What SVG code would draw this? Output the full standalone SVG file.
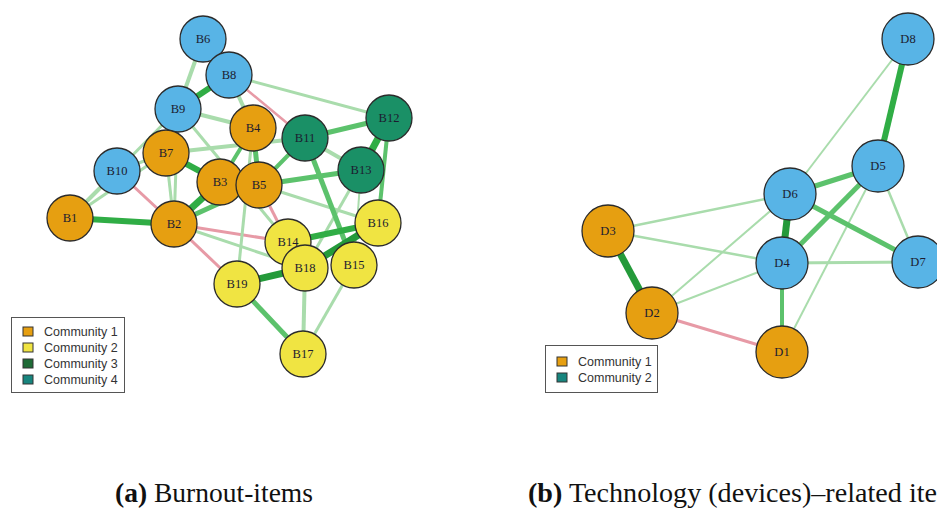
<svg xmlns="http://www.w3.org/2000/svg" width="937" height="508" viewBox="0 0 937 508">
<style>
.e{fill:none;stroke-linecap:butt}
.s{stroke:#30ad45}
.sd{stroke:#249a3a}
.m{stroke:#5cc26c}
.l{stroke:#a9dcac}
.p{stroke:#e79aa6}
.n circle{stroke:#2b2b2b;stroke-width:1.3}
.b circle{r:23px}
.d circle{r:26px}
.n text{font-family:"Liberation Serif","DejaVu Serif",serif;font-size:12.5px;fill:#1c1c30;text-anchor:middle;dominant-baseline:central}
.c1{fill:#E69F11}
.c2{fill:#F0E442}
.cb{fill:#58B4E6}
.ct{fill:#1A9066}
.lg text{font-family:"Liberation Sans",Arial,sans-serif;font-size:12.5px;fill:#333}
.lg rect.box{fill:#fff;stroke:#555;stroke-width:1}
.lg rect.k{stroke:#333;stroke-width:1}
.cap{font-family:"Liberation Serif","Times New Roman",serif;font-size:27px;fill:#111}
</style>
<rect width="937" height="508" fill="#fff"/>
<g id="edges-a">
<line class="e l" stroke-width="3" x1="178" y1="109" x2="117" y2="171"/>
<line class="e l" stroke-width="3" x1="178" y1="109" x2="174" y2="224"/>
<line class="e l" stroke-width="3" x1="178" y1="109" x2="288" y2="242"/>
<line class="e l" stroke-width="4" x1="178" y1="109" x2="253" y2="128"/>
<line class="e l" stroke-width="4" x1="166" y1="153" x2="305" y2="138"/>
<line class="e l" stroke-width="3" x1="166" y1="153" x2="174" y2="224"/>
<line class="e l" stroke-width="3" x1="166" y1="153" x2="70" y2="218"/>
<line class="e l" stroke-width="4" x1="117" y1="171" x2="70" y2="218"/>
<line class="e l" stroke-width="3" x1="117" y1="171" x2="166" y2="153"/>
<line class="e p" stroke-width="3" x1="117" y1="171" x2="174" y2="224"/>
<line class="e p" stroke-width="3" x1="174" y1="224" x2="288" y2="242"/>
<line class="e p" stroke-width="3" x1="174" y1="224" x2="237" y2="284"/>
<line class="e l" stroke-width="3" x1="174" y1="224" x2="305" y2="268"/>
<line class="e l" stroke-width="3" x1="253" y1="128" x2="237" y2="284"/>
<line class="e l" stroke-width="3" x1="259" y1="185" x2="378" y2="223"/>
<line class="e p" stroke-width="3" x1="259" y1="185" x2="288" y2="242"/>
<line class="e l" stroke-width="4" x1="229" y1="75" x2="253" y2="128"/>
<line class="e l" stroke-width="3" x1="229" y1="75" x2="389" y2="118"/>
<line class="e p" stroke-width="2.5" x1="229" y1="75" x2="305" y2="138"/>
<line class="e l" stroke-width="4" x1="203" y1="39" x2="178" y2="109"/>
<line class="e l" stroke-width="4" x1="305" y1="138" x2="361" y2="170"/>
<line class="e l" stroke-width="3" x1="361" y1="170" x2="305" y2="268"/>
<line class="e l" stroke-width="2" x1="361" y1="170" x2="354" y2="265"/>
<line class="e l" stroke-width="4" x1="305" y1="268" x2="303" y2="354"/>
<line class="e l" stroke-width="3" x1="354" y1="265" x2="303" y2="354"/>
<line class="e m" stroke-width="4" x1="389" y1="118" x2="378" y2="223"/>
<line class="e m" stroke-width="5" x1="305" y1="138" x2="354" y2="265"/>
<line class="e m" stroke-width="5" x1="259" y1="185" x2="361" y2="170"/>
<line class="e m" stroke-width="4" x1="259" y1="185" x2="305" y2="138"/>
<line class="e m" stroke-width="5" x1="253" y1="128" x2="259" y2="185"/>
<line class="e m" stroke-width="4" x1="253" y1="128" x2="220" y2="182"/>
<line class="e m" stroke-width="5" x1="305" y1="138" x2="389" y2="118"/>
<line class="e m" stroke-width="5" x1="174" y1="224" x2="259" y2="185"/>
<line class="e m" stroke-width="5" x1="237" y1="284" x2="303" y2="354"/>
<line class="e s" stroke-width="6" x1="70" y1="218" x2="174" y2="224"/>
<line class="e s" stroke-width="7" x1="174" y1="224" x2="220" y2="182"/>
<line class="e s" stroke-width="6" x1="166" y1="153" x2="220" y2="182"/>
<line class="e s" stroke-width="6" x1="229" y1="75" x2="178" y2="109"/>
<line class="e s" stroke-width="7" x1="389" y1="118" x2="361" y2="170"/>
<line class="e s" stroke-width="6" x1="288" y1="242" x2="378" y2="223"/>
<line class="e sd" stroke-width="7" x1="305" y1="268" x2="378" y2="223"/>
<line class="e sd" stroke-width="7" x1="305" y1="268" x2="237" y2="284"/>
</g>
<g id="edges-b">
<line class="e l" stroke-width="2" x1="908" y1="39" x2="790" y2="194"/>
<line class="e l" stroke-width="2.5" x1="878" y1="166" x2="918" y2="262"/>
<line class="e l" stroke-width="2" x1="878" y1="166" x2="782" y2="352"/>
<line class="e l" stroke-width="2.5" x1="790" y1="194" x2="608" y2="231"/>
<line class="e l" stroke-width="2" x1="790" y1="194" x2="652" y2="313"/>
<line class="e l" stroke-width="2.5" x1="782" y1="263" x2="608" y2="231"/>
<line class="e l" stroke-width="2" x1="782" y1="263" x2="652" y2="313"/>
<line class="e l" stroke-width="3" x1="782" y1="263" x2="918" y2="262"/>
<line class="e p" stroke-width="3" x1="652" y1="313" x2="782" y2="352"/>
<line class="e m" stroke-width="4" x1="782" y1="263" x2="782" y2="352"/>
<line class="e m" stroke-width="5" x1="878" y1="166" x2="790" y2="194"/>
<line class="e m" stroke-width="5" x1="878" y1="166" x2="782" y2="263"/>
<line class="e m" stroke-width="5" x1="790" y1="194" x2="918" y2="262"/>
<line class="e s" stroke-width="6" x1="908" y1="39" x2="878" y2="166"/>
<line class="e sd" stroke-width="7" x1="790" y1="194" x2="782" y2="263"/>
<line class="e sd" stroke-width="7" x1="608" y1="231" x2="652" y2="313"/>
</g>
<g id="B6" class="n b"><circle class="cb" cx="203" cy="39"/><text x="203" y="39">B6</text></g>
<g id="B8" class="n b"><circle class="cb" cx="229" cy="75"/><text x="229" y="75">B8</text></g>
<g id="B9" class="n b"><circle class="cb" cx="178" cy="109"/><text x="178" y="109">B9</text></g>
<g id="B10" class="n b"><circle class="cb" cx="117" cy="171"/><text x="117" y="171">B10</text></g>
<g id="B4" class="n b"><circle class="c1" cx="253" cy="128"/><text x="253" y="128">B4</text></g>
<g id="B7" class="n b"><circle class="c1" cx="166" cy="153"/><text x="166" y="153">B7</text></g>
<g id="B1" class="n b"><circle class="c1" cx="70" cy="218"/><text x="70" y="218">B1</text></g>
<g id="B2" class="n b"><circle class="c1" cx="174" cy="224"/><text x="174" y="224">B2</text></g>
<g id="B3" class="n b"><circle class="c1" cx="220" cy="182"/><text x="220" y="182">B3</text></g>
<g id="B5" class="n b"><circle class="c1" cx="259" cy="185"/><text x="259" y="185">B5</text></g>
<g id="B11" class="n b"><circle class="ct" cx="305" cy="138"/><text x="305" y="138">B11</text></g>
<g id="B12" class="n b"><circle class="ct" cx="389" cy="118"/><text x="389" y="118">B12</text></g>
<g id="B13" class="n b"><circle class="ct" cx="361" cy="170"/><text x="361" y="170">B13</text></g>
<g id="B16" class="n b"><circle class="c2" cx="378" cy="223"/><text x="378" y="223">B16</text></g>
<g id="B14" class="n b"><circle class="c2" cx="288" cy="242"/><text x="288" y="242">B14</text></g>
<g id="B15" class="n b"><circle class="c2" cx="354" cy="265"/><text x="354" y="265">B15</text></g>
<g id="B18" class="n b"><circle class="c2" cx="305" cy="268"/><text x="305" y="268">B18</text></g>
<g id="B19" class="n b"><circle class="c2" cx="237" cy="284"/><text x="237" y="284">B19</text></g>
<g id="B17" class="n b"><circle class="c2" cx="303" cy="354"/><text x="303" y="354">B17</text></g>
<g id="D8" class="n d"><circle class="cb" cx="908" cy="39"/><text x="908" y="39">D8</text></g>
<g id="D5" class="n d"><circle class="cb" cx="878" cy="166"/><text x="878" y="166">D5</text></g>
<g id="D6" class="n d"><circle class="cb" cx="790" cy="194"/><text x="790" y="194">D6</text></g>
<g id="D4" class="n d"><circle class="cb" cx="782" cy="263"/><text x="782" y="263">D4</text></g>
<g id="D7" class="n d"><circle class="cb" cx="918" cy="262"/><text x="918" y="262">D7</text></g>
<g id="D3" class="n d"><circle class="c1" cx="608" cy="231"/><text x="608" y="231">D3</text></g>
<g id="D2" class="n d"><circle class="c1" cx="652" cy="313"/><text x="652" y="313">D2</text></g>
<g id="D1" class="n d"><circle class="c1" cx="782" cy="352"/><text x="782" y="352">D1</text></g>
<g id="legend-a" class="lg">
<rect class="box" x="11.5" y="317.5" width="113" height="75"/>
<rect class="k" x="23" y="327" width="10" height="9" fill="#E69F11"/>
<rect class="k" x="23" y="343" width="10" height="9" fill="#F0E442"/>
<rect class="k" x="23" y="359" width="10" height="9" fill="#1E6B36"/>
<rect class="k" x="23" y="375" width="10" height="9" fill="#17857E"/>
<text x="44" y="336">Community 1</text>
<text x="44" y="352">Community 2</text>
<text x="44" y="368">Community 3</text>
<text x="44" y="384">Community 4</text>
</g>
<g id="legend-b" class="lg">
<rect class="box" x="545.5" y="345.5" width="112" height="47"/>
<rect class="k" x="557" y="357" width="10" height="9" fill="#E69F11"/>
<rect class="k" x="557" y="373" width="10" height="9" fill="#17857E"/>
<text x="578" y="366">Community 1</text>
<text x="578" y="382">Community 2</text>
</g>
<text class="cap" x="115" y="502" textLength="198" lengthAdjust="spacingAndGlyphs"><tspan font-weight="bold">(a)</tspan> Burnout-items</text>
<text class="cap" x="528" y="502" textLength="409" lengthAdjust="spacingAndGlyphs"><tspan font-weight="bold">(b)</tspan> Technology (devices)–related ite</text>
</svg>
